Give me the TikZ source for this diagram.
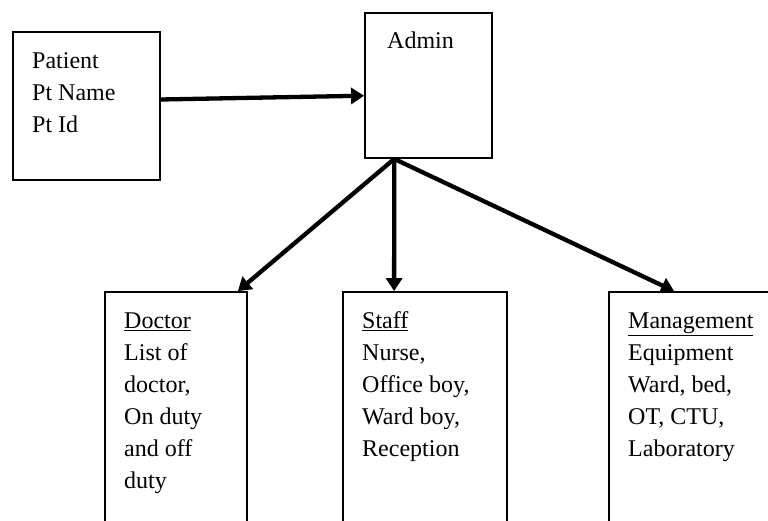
\documentclass[tikz,border=0pt]{standalone}
\usepackage{fontspec}
\setmainfont{Liberation Serif}
\newfontfamily\diagfont{Liberation Serif}
\usetikzlibrary{arrows.meta}

% fixed height for the first line of each box text
\newcommand\firstline{\rule{0pt}{17pt}}

\tikzset{
  box/.style={draw, line width=1.8pt, rectangle, inner sep=0pt},
  boxtext/.style={anchor=north west, inner sep=0pt, align=left,
    font=\diagfont\fontsize{24}{32}\selectfont},
  link/.style={line width=4.3pt, -{Triangle[length=13pt,width=16pt]}}
}

\begin{document}
\begin{tikzpicture}[x=1pt, y=-1pt]
  \useasboundingbox (0,0) rectangle (768,520);
  \clip (0,0) rectangle (768,520);

  % boxes
  \node[box, minimum width=147pt, minimum height=148pt] (patient) at (86.5,106) {};
  \node[box, minimum width=127pt, minimum height=145pt] (admin) at (428.5,85.5) {};
  \node[box, minimum width=142pt, minimum height=268pt] (doctor) at (176,426) {};
  \node[box, minimum width=164pt, minimum height=268pt] (staff) at (425,426) {};
  \node[box, minimum width=211pt, minimum height=268pt] (mgmt) at (714.5,426) {};

  % box contents
  \node[boxtext] (patientText) at (32,51) {\firstline Patient\\Pt Name\\Pt Id};
  \node[boxtext] (adminText) at (387,31) {\firstline Admin};
  \node[boxtext] (doctorText) at (124,311)
    {\firstline\underline{Doctor}\\List of\\doctor,\\On duty\\and off\\duty};
  \node[boxtext] (staffText) at (362,311)
    {\firstline\underline{Staff}\\Nurse,\\Office boy,\\Ward boy,\\Reception};
  \node[boxtext] (mgmtText) at (628,311)
    {\firstline\underline{Management}\\Equipment\\Ward, bed,\\OT, CTU,\\Laboratory};

  % connectors
  \draw[link] (patient.5) -- (admin.189);
  \draw[link] (admin.245) -- ([xshift=-10pt]doctor.north east);
  \draw[link] (admin.245) -- ([xshift=52pt]staff.north west);
  \draw[link] (admin.245) -- ([xshift=66pt]mgmt.north west);
\end{tikzpicture}
\end{document}
